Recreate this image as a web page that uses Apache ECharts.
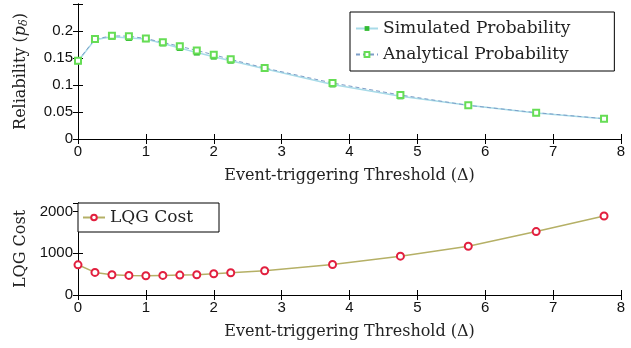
<!DOCTYPE html>
<html>
<head>
<meta charset="utf-8">
<script src="https://cdn.jsdelivr.net/npm/echarts@6/dist/echarts.min.js"></script>
<style>
html,body{margin:0;padding:0;background:#fff;}
#main{width:631px;height:348px;}
</style>
</head>
<body>
<div id="main"></div>
<script>
// threshold values (x axis)
var thresholds = [0, 0.25, 0.5, 0.75, 1, 1.25, 1.5, 1.75, 2, 2.25, 2.75, 3.75, 4.75, 5.75, 6.75, 7.75];
var simulatedProb = [0.144, 0.184, 0.1895, 0.187, 0.185, 0.177, 0.1685, 0.160, 0.1525, 0.145, 0.130, 0.101, 0.079, 0.0623, 0.048, 0.0377];
var analyticalProb = [0.145, 0.185, 0.191, 0.1905, 0.186, 0.179, 0.1716, 0.164, 0.156, 0.1475, 0.1315, 0.1037, 0.0815, 0.0623, 0.0488, 0.0377];
var lqgCost = [722, 540, 484, 468, 460, 468, 476, 484, 508, 532, 580, 730, 929, 1167, 1516, 1889];

function pairs(xs, ys){
	var out=[];
	for(var i=0;i<xs.length;i++){ out.push([xs[i], ys[i]]); }
	return out;
}

var serif = 'DejaVu Serif';
var sans = 'Liberation Sans';

myChart = echarts.init(document.getElementById('main'));

function xAx(gi, name, showLabel){
	return {
		type:'value', gridIndex:gi, min:0, max:8, interval:1,
		position: showLabel ? 'bottom' : 'top',
		name: name, nameLocation:'middle', nameGap:29,
		nameTextStyle:{fontFamily:serif, fontSize:16, color:'#222'},
		axisLine:{show:true, lineStyle:{color:'#000', width:1}},
		axisTick:{show:true, inside:true, length:5, lineStyle:{color:'#000'}},
		axisLabel:{show:showLabel, fontFamily:sans, fontSize:15, color:'#111', margin:5},
		splitLine:{show:false}
	};
}

function yAx(gi, max, interval, name, showLabel, fmt){
	return {
		type:'value', gridIndex:gi, min:0, max:max, interval:interval,
		position: showLabel ? 'left' : 'right',
		name: name, nameLocation:'middle', nameGap:48, nameRotate:90,
		nameTextStyle:{fontFamily:serif, fontSize:16, color:'#222',
			rich:{i:{fontFamily:serif, fontStyle:'italic', fontSize:16, color:'#222'},
			      s:{fontFamily:serif, fontStyle:'italic', fontSize:11, color:'#222', verticalAlign:'bottom', padding:[8,0,0,0]}}},
		axisLine:{show:true, lineStyle:{color:'#000', width:1}},
		axisTick:{show:true, inside:true, length:5, lineStyle:{color:'#000'}},
		axisLabel:{show:showLabel, fontFamily:sans, fontSize:15, color:'#111', margin:5, formatter:fmt},
		splitLine:{show:false}
	};
}

var fmtTop = function(v){ return v > 0.21 ? '' : String(Math.round(v*100)/100); };
var fmtBot = function(v){ return v % 1000 === 0 ? String(v) : ''; };

option = {
	backgroundColor:'#fff',
	animation:false,
	grid:[
		{left:78, right:10, top:4, height:135},
		{left:78, right:10, top:203, height:92}
	],
	legend:[
		{
			data:['Simulated Probability','Analytical Probability'],
			orient:'vertical', left:350, top:12,
			borderColor:'#000', borderWidth:1, padding:[8,44,8,5],
			itemGap:9, itemWidth:22, itemHeight:6,
			backgroundColor:'#fff',
			textStyle:{fontFamily:serif, fontSize:17, color:'#222'}
		},
		{
			data:['LQG Cost'],
			left:78, top:203,
			borderColor:'#000', borderWidth:1, padding:[6,26,6,4],
			itemWidth:22, itemHeight:7,
			backgroundColor:'#fff',
			textStyle:{fontFamily:serif, fontSize:17, color:'#222'}
		}
	],
	xAxis:[
		xAx(0, 'Event-triggering Threshold (\u0394)', true),
		xAx(0, '', false),
		xAx(1, 'Event-triggering Threshold (\u0394)', true),
		xAx(1, '', false)
	],
	yAxis:[
		yAx(0, 0.25, 0.05, 'Reliability ({i|p}{s|\u03b4})', true, fmtTop),
		yAx(0, 0.25, 0.05, '', false, fmtTop),
		yAx(1, 2200, 1000, 'LQG Cost', true, fmtBot),
		yAx(1, 2200, 1000, '', false, fmtBot)
	],
	series:[
		{
			name:'Simulated Probability', type:'line', xAxisIndex:0, yAxisIndex:0,
			data:pairs(thresholds, simulatedProb),
			symbol:'rect', symbolSize:6,
			lineStyle:{color:'#a8dbe8', width:1.5},
			itemStyle:{color:'#33bb33'},
			z:2
		},
		{
			name:'Analytical Probability', type:'line', xAxisIndex:0, yAxisIndex:0,
			data:pairs(thresholds, analyticalProb),
			symbol:'emptyRect', symbolSize:6,
			lineStyle:{color:'#7d9ec8', width:1, type:[4,3]},
			itemStyle:{color:'#66dd55', borderWidth:1.5},
			z:3
		},
		{
			name:'LQG Cost', type:'line', xAxisIndex:2, yAxisIndex:2,
			data:pairs(thresholds, lqgCost),
			symbol:'emptyCircle', symbolSize:7,
			lineStyle:{color:'#b5b066', width:1.5},
			itemStyle:{color:'#e2203f', borderWidth:1.5}
		}
	]
};
myChart.setOption(option);
</script>
</body>
</html>
